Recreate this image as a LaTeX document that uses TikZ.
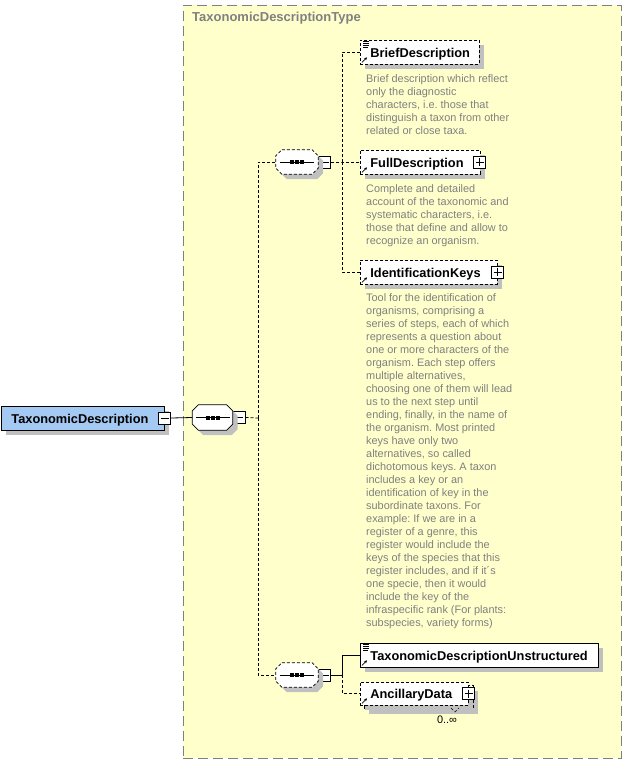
\documentclass[tikz,border=0pt]{standalone}
\usepackage{fontspec}
\setmainfont{Liberation Sans}
\usetikzlibrary{arrows.meta,positioning,shadows}
\definecolor{typefill}{RGB}{255,255,204}
\definecolor{typeline}{RGB}{128,128,128}
\definecolor{notegray}{RGB}{128,128,128}
\definecolor{rootblue}{RGB}{164,201,242}
\definecolor{shade}{RGB}{192,192,192}
\frenchspacing

\begin{document}
\begin{tikzpicture}[x=1pt, y=-1pt,
    every node/.style={font=\fontsize{10.9}{13}\selectfont},
    shd/.style={drop shadow={opacity=1, fill=shade, shadow xshift=5pt, shadow yshift=-5pt}},
    el/.style={rectangle, draw, fill=white, line width=0.8pt, anchor=west,
               inner xsep=10pt, inner ysep=0pt, minimum height=24pt,
               text height=11pt, text depth=1pt, align=left,
               font=\fontsize{12.8}{15}\selectfont\bfseries, shd},
    opt/.style={dash pattern=on 3pt off 2pt},
    sq/.style={rectangle, minimum width=42pt, minimum height=24pt, inner sep=0pt},
    pm/.style={rectangle, draw, fill=white, minimum size=12pt, inner sep=0pt,
               line width=0.8pt,
               path picture={\draw ([xshift=2pt]path picture bounding box.west)
                 -- ([xshift=-2pt]path picture bounding box.east);}},
    pl/.style={rectangle, draw, fill=white, minimum size=12pt, inner sep=0pt,
               line width=0.8pt,
               path picture={\draw ([xshift=2pt]path picture bounding box.west)
                 -- ([xshift=-2pt]path picture bounding box.east);
                 \draw ([yshift=-2pt]path picture bounding box.north)
                 -- ([yshift=2pt]path picture bounding box.south);}},
    note/.style={text=notegray, align=left, anchor=north west, inner sep=0pt},
    conn/.style={line width=0.8pt, dash pattern=on 3pt off 2pt},
    wire/.style={line width=0.8pt},
  ]
  \useasboundingbox (0,0) rectangle (627,763);

  % complex type frame
  \node[draw=typeline, fill=typefill, line width=0.8pt, dash pattern=on 10pt off 5pt,
        minimum width=438pt, minimum height=753pt, inner sep=0pt] (typ) at (402, 381.5) {};
  \node[anchor=west, inner sep=0pt, text=typeline,
        font=\fontsize{13}{15}\selectfont\bfseries] (typlbl) at (192, 18) {TaxonomicDescriptionType};

  % root element
  \node[el, fill=rootblue, text width=143pt] (root) at (1, 418) {TaxonomicDescription};
  \node[pm] (rootm) at (root.east) {};

  % sequences
  \node[sq, minimum width=40pt, minimum height=25pt] (s0) at (212.5, 417.5) {};
  \node[pm, right=0pt of s0] (m0) {};
  \node[sq] (s1) at (297, 162) {};
  \node[pm, right=0pt of s1] (m1) {};
  \node[sq] (s2) at (297, 675) {};
  \node[pm, right=0pt of s2] (m2) {};
  \foreach \s/\d in {s0/solid, s1/opt, s2/opt}
    \filldraw[fill=white, line width=0.8pt, shd, \d]
      ([xshift=6pt]\s.north west) -- ([xshift=-6pt]\s.north east)
      -- ([yshift=-6pt]\s.north east) -- ([yshift=6pt]\s.south east)
      -- ([xshift=-6pt]\s.south east) -- ([xshift=6pt]\s.south west)
      -- ([yshift=6pt]\s.south west) -- ([yshift=-6pt]\s.north west) -- cycle;

  % child elements
  \node[el, opt, text width=99pt] (brief) at (360, 52) {BriefDescription};
  \node[el, opt, text width=100pt] (full) at (360, 162) {FullDescription};
  \node[pl] (fullp) at ([xshift=-1pt]full.east) {};
  \node[el, opt, text width=117pt] (idkeys) at (360, 272) {IdentificationKeys};
  \node[pl] (idkp) at (idkeys.east) {};
  \node[el, text width=218pt] (tdu) at (360, 655) {TaxonomicDescriptionUnstructured};
  \node[el, opt, text width=89pt, minimum height=23pt] (ancb) at (364, 697) {};
  \node[el, opt, text width=88pt, minimum height=23pt] (anc) at (360, 693.5) {AncillaryData};
  \node[pl] (ancp) at (anc.east) {};
  \draw[line width=0.6pt, opt] (451, 708) -- (455, 712) -- (459, 708);
  \node (ancmult) at (447, 720) {0..∞};

  % annotations
  \node[note] (briefnote) at (366, 74) {Brief description which reflect\\only the diagnostic\\characters, i.e. those that\\distinguish a taxon from other\\related or close taxa.};
  \node[note] (fullnote) at (366, 184) {Complete and detailed\\account of the taxonomic and\\systematic characters, i.e.\\those that define and allow to\\recognize an organism.};
  \node[note] (idknote) at (366, 293.5) {Tool for the identification of\\organisms, comprising a\\series of steps, each of which\\represents a question about\\one or more characters of the\\organism. Each step offers\\multiple alternatives,\\choosing one of them will lead\\us to the next step until\\ending, finally, in the name of\\the organism. Most printed\\keys have only two\\alternatives, so called\\dichotomous keys. A taxon\\includes a key or an\\identification of key in the\\subordinate taxons. For\\example: If we are in a\\register of a genre, this\\register would include the\\keys of the species that this\\register includes, and if it´s\\one specie, then it would\\include the key of the\\infraspecific rank (For plants:\\subspecies, variety forms)};

  % connectors
  \draw[wire] (rootm.east) -- (s0.west);
  \coordinate (j0) at (258, 418);
  \draw[conn] (m0.east) -- (j0);
  \draw[conn] (j0) |- (s1.west);
  \draw[conn] (j0) |- (s2.west);
  \coordinate (j1) at (342, 162);
  \draw[conn] (m1.east) -- (j1) -- (full.west);
  \draw[conn] (j1) |- (brief.west);
  \draw[conn] (j1) |- (idkeys.west);
  \coordinate (j2) at (342, 675);
  \draw[wire] (m2.east) -- (j2) |- (tdu.west);
  \draw[conn] (j2) |- (anc.west);

  % sequence glyphs
  \foreach \s in {s0,s1,s2} {
    \draw[line width=1pt] ([xshift=-17pt]\s.center) -- ([xshift=17pt]\s.center);
    \foreach \k in {-7pt,-2pt,3pt}
      \fill ([xshift=\k, yshift=-2pt]\s.center) rectangle ++(4pt,4pt);
  }
  % simple content and reference marks
  \foreach \n in {brief,tdu}
    \foreach \k/\w in {1.5pt/6,3.5pt/6,5.5pt/6,7.5pt/5}
      \draw[line width=0.6pt] ([xshift=3pt, yshift=-\k]\n.north west) -- ++(\w,0);
  \foreach \n in {brief,full,idkeys,tdu,anc}
    \draw[line width=0.8pt, -{Stealth[length=3pt, width=3pt]}]
      ([shift={(2pt,2pt)}]\n.south west) -- ++(5pt,5pt);
\end{tikzpicture}
\end{document}
